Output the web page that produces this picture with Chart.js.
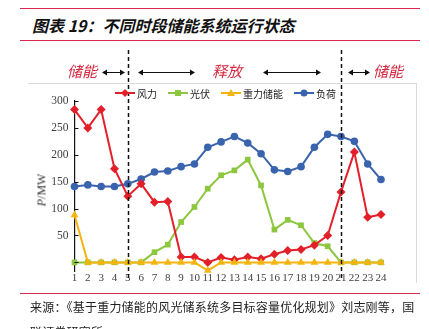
<!DOCTYPE html>
<html>
<head>
<meta charset="utf-8">
<script src="https://cdn.jsdelivr.net/npm/chart.js@4/dist/chart.umd.min.js"></script>
<style>
  html, body { margin: 0; padding: 0; background: #fff; }
  body { width: 429px; height: 329px; position: relative; overflow: hidden; font-family: "Noto Sans CJK SC", sans-serif; }
  .abs { position: absolute; }
  .rule { position: absolute; left: 20px; width: 400px; height: 1px; background: #d8284e; }
  #title { left: 32px; top: 13px; font-size: 16px; font-weight: bold; font-style: italic; color: #111; line-height: 24px; white-space: nowrap; }
  #frame { left: 28px; top: 83px; width: 388px; height: 199px; border-top: 1px solid #d9d9d9; border-right: 1px solid #d9d9d9; }
  #wrap { left: 0; top: 0; width: 429px; height: 329px; }
  .phase { position: absolute; color: #d7263d; font-size: 15px; font-style: italic; line-height: 20px; top: 61px; white-space: nowrap; }
  #legend { left: 115px; top: 86px; height: 14px; display: flex; align-items: center; font-size: 10px; color: #222; white-space: nowrap; }
  #legend .item { display: flex; align-items: center; margin-right: 11px; }
  #legend svg { margin-right: 2px; }
  #ytitle { left: 42px; top: 190px; transform: translate(-50%, -50%) rotate(-90deg); font-family: "Liberation Serif", serif; font-size: 12px; color: #333; white-space: nowrap; }
  #source { left: 30px; top: 294px; font-size: 12px; line-height: 25px; color: #222; letter-spacing: 0.2px; white-space: nowrap; }
</style>
</head>
<body>
<div class="rule" style="top:8px"></div>
<div id="title" class="abs">图表 19：不同时段储能系统运行状态</div>
<div class="rule" style="top:40px"></div>

<div id="frame" class="abs"></div>
<div id="wrap" class="abs"><canvas id="myChart"></canvas></div>

<div class="phase" style="left:67px">储能</div>
<div class="phase" style="left:212px">释放</div>
<div class="phase" style="left:373px">储能</div>

<div id="legend" class="abs"></div>
<div id="ytitle" class="abs"><i>P</i>/MW</div>

<div class="rule" style="top:293px"></div>
<div id="source" class="abs">来源：《基于重力储能的风光储系统多目标容量优化规划》刘志刚等，国<br>联证券研究所</div>

<script>
// hours of the day
const hours = [1, 2, 3, 4, 5, 6, 7, 8, 9, 10, 11, 12, 13, 14, 15, 16, 17, 18, 19, 20, 21, 22, 23, 24];

// series (MW)
const wind    = [284, 250, 284, 174, 123, 146, 112, 113, 10, 10, 0, 9, 5, 10, 7, 15, 22, 24, 32, 50, 131, 205, 84, 89];
const solar   = [0, 0, 0, 0, 0, 0, 19, 33, 75, 103, 137, 162, 171, 191, 143, 61, 79, 69, 36, 30, 0, 0, 0, 0];
const gravity = [88, 0, 0, 0, 0, 0, 0, 0, 0, 0, -15, 0, 0, 0, 0, 0, 0, 0, 0, 0, 0, 0, 0, 0];
const load    = [141, 144, 141, 141, 146, 155, 168, 170, 178, 183, 214, 224, 234, 222, 202, 172, 169, 178, 214, 238, 234, 225, 183, 154];

// storage / release switch points
const phaseHours = [5, 21];

const yTicks = [0, 50, 100, 150, 200, 250, 300];

const series = [
    { label: '风力', data: wind, color: '#e3202a', style: 'rectRot', r: 4.5, order: 1 },
    { label: '光伏', data: solar, color: '#8dc63f', style: 'rect', r: 4, order: 3 },
    { label: '重力储能', data: gravity, color: '#f5b40f', style: 'triangle', r: 4.5, order: 0 },
    { label: '负荷', data: load, color: '#3a63ad', style: 'circle', r: 3.8, order: 2 }
];

// html legend with line + marker
function markerSvg(s) {
    let m = '';
    if (s.style === 'rectRot') m = '<polygon points="10,1 14,5 10,9 6,5" fill="' + s.color + '"/>';
    if (s.style === 'rect') m = '<rect x="7" y="2" width="6" height="6" fill="' + s.color + '"/>';
    if (s.style === 'triangle') m = '<polygon points="10,1 14,8 6,8" fill="' + s.color + '"/>';
    if (s.style === 'circle') m = '<circle cx="10" cy="5" r="3.5" fill="' + s.color + '"/>';
    return '<svg width="20" height="10"><line x1="0" y1="5" x2="20" y2="5" stroke="' + s.color + '" stroke-width="2"/>' + m + '</svg>';
}
document.getElementById('legend').innerHTML = series.map(s =>
    '<span class="item">' + markerSvg(s) + '<span>' + s.label + '</span></span>').join('');

// dashed phase lines, inward y ticks, arrows
const extras = {
    id: 'extras',
    afterDatasetsDraw(chart) {
        const ctx = chart.ctx;
        const x = chart.scales.x, y = chart.scales.y;
        ctx.save();
        ctx.strokeStyle = '#111';
        ctx.lineWidth = 1.5;
        ctx.setLineDash([4, 3]);
        phaseHours.forEach(h => {
            const px = Math.round(x.getPixelForValue(hours.indexOf(h))) + 0.5;
            ctx.beginPath();
            ctx.moveTo(px, 50);
            ctx.lineTo(px, 281);
            ctx.stroke();
        });
        ctx.setLineDash([]);
        ctx.lineWidth = 1;
        const ax = chart.chartArea.left;
        yTicks.forEach(v => {
            const py = Math.round(y.getPixelForValue(v)) + 0.5;
            ctx.beginPath();
            ctx.moveTo(ax, py);
            ctx.lineTo(ax + 4, py);
            ctx.stroke();
        });
        // double arrows next to phase labels
        const arrows = [[102, 125], [138, 195], [263, 321], [348, 370]];
        ctx.fillStyle = '#111';
        arrows.forEach(([a, b]) => {
            const ay = 72.5;
            ctx.beginPath();
            ctx.moveTo(a + 3, ay);
            ctx.lineTo(b - 3, ay);
            ctx.stroke();
            ctx.beginPath();
            ctx.moveTo(a, ay); ctx.lineTo(a + 5, ay - 3); ctx.lineTo(a + 5, ay + 3); ctx.closePath();
            ctx.moveTo(b, ay); ctx.lineTo(b - 5, ay - 3); ctx.lineTo(b - 5, ay + 3); ctx.closePath();
            ctx.fill();
        });
        ctx.restore();
    }
};

const config = {
    type: 'line',
    data: {
        labels: hours,
        datasets: series.map(s => ({
            label: s.label,
            data: s.data,
            borderColor: s.color,
            backgroundColor: s.color,
            borderWidth: 2,
            pointStyle: s.style,
            pointRadius: s.r,
            pointBorderWidth: 0,
            tension: 0,
            clip: false,
            order: s.order
        }))
    },
    options: {
        responsive: true,
        maintainAspectRatio: false,
        animation: false,
        layout: { padding: { left: 0, top: 101, right: 48, bottom: 42 } },
        plugins: { legend: { display: false }, tooltip: { enabled: false } },
        scales: {
            x: {
                grid: { display: false, drawTicks: false },
                border: { display: false },
                ticks: {
                    autoSkip: false, maxRotation: 0, padding: 1, color: '#404040',
                    font: { family: "'Liberation Serif', serif", size: 11 }
                },
                afterFit: s => { s.height = 16; }
            },
            y: {
                min: -16,
                max: 300,
                grid: { display: false, drawTicks: false },
                border: { display: true, color: '#111', width: 1.2 },
                ticks: {
                    stepSize: 50, padding: 6, color: '#404040',
                    font: { family: "'Liberation Serif', serif", size: 11.5 }
                },
                afterBuildTicks: s => { s.ticks = s.ticks.filter(t => t.value >= 0); },
                afterFit: s => { s.width = 74.5; }
            }
        }
    },
    plugins: [extras]
};

var myChart = new Chart(document.getElementById('myChart'), config);
</script>
</body>
</html>
